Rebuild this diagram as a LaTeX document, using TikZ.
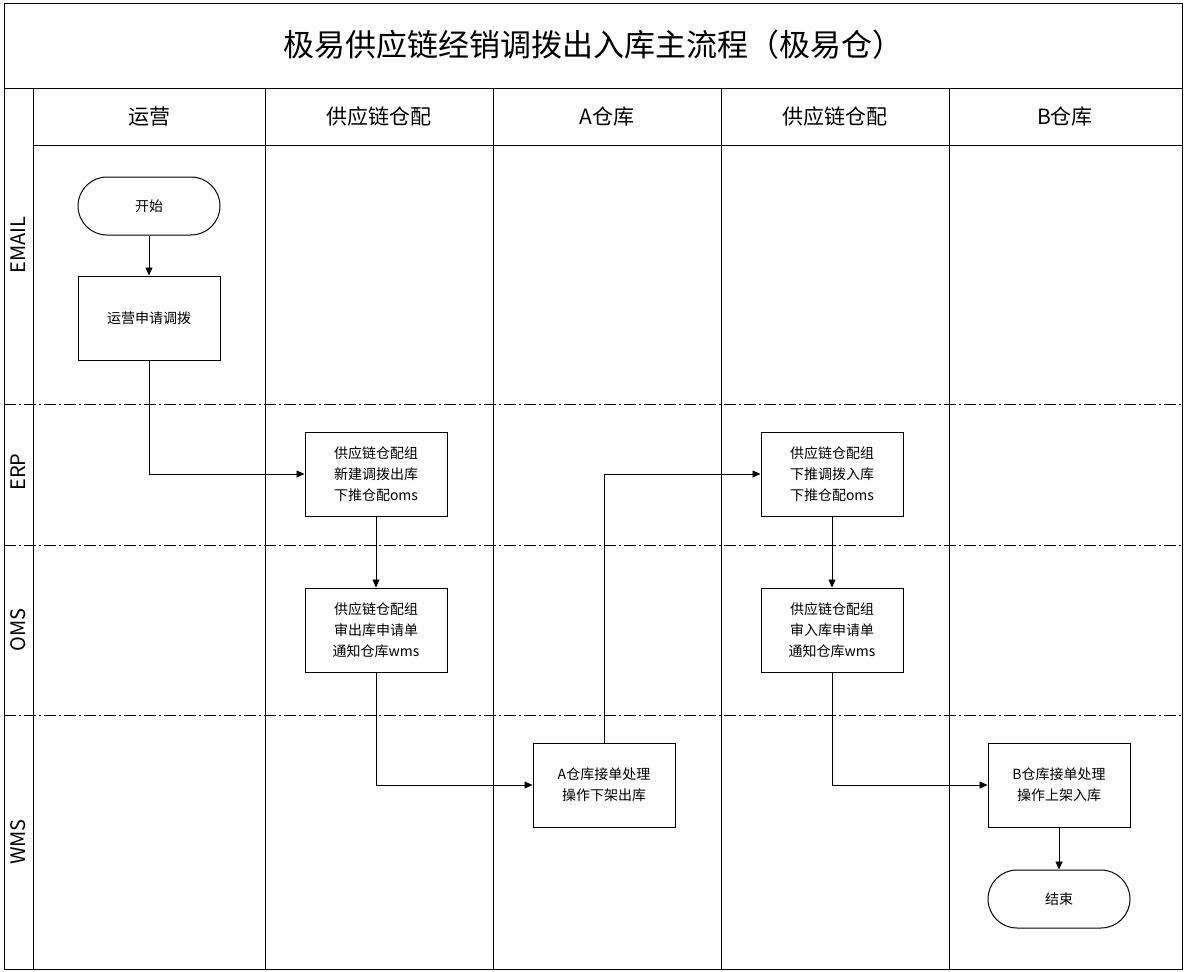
\documentclass[tikz,border=0pt]{standalone}
\usepackage{fontspec}
\setmainfont{Noto Sans CJK SC}
\usetikzlibrary{arrows.meta}
\begin{document}
\begin{tikzpicture}[x=1pt,y=-1pt,
  box/.style={draw,line width=1pt,minimum width=142pt,minimum height=84pt,align=center,font=\fontsize{14}{21}\selectfont},
  term/.style={draw,line width=1pt,rounded corners=29pt,minimum width=142pt,minimum height=58pt,font=\fontsize{14}{21}\selectfont},
  flow/.style={line width=0.8pt,-{Triangle[length=8pt,width=7pt]}},
  lane/.style={line width=0.8pt,dash pattern=on 12pt off 3pt on 2pt off 3pt}]

\useasboundingbox (0,0) rectangle (1184,972);
\draw[line width=1pt] (4,3) rectangle (1182,969);
\draw[line width=1pt] (4,88)--(1182,88);
\draw[line width=1pt] (33,145)--(1182,145);
\draw[line width=1pt] (33,88)--(33,969);
\foreach \x in {265,493,721,949}{
\draw[line width=0.8pt] (\x,88)--(\x,969);
}
\foreach \y in {404,545,715}{
\draw[lane] (4,\y)--(1182,\y);
}

% titles
\node (title) at (593,45) {\fontsize{31}{36}\selectfont 极易供应链经销调拨出入库主流程（极易仓）};
\node (h1) at (149,117) {\fontsize{21}{25}\selectfont 运营};
\node (h2) at (379,117) {\fontsize{21}{25}\selectfont 供应链仓配};
\node (h3) at (607,117) {\fontsize{21}{25}\selectfont A仓库};
\node (h4) at (835,117) {\fontsize{21}{25}\selectfont 供应链仓配};
\node (h5) at (1065,117) {\fontsize{21}{25}\selectfont B仓库};

\node[rotate=90] (email) at (18,245) {\fontsize{20}{24}\selectfont EMAIL};
\node[rotate=90] (erp) at (18,472) {\fontsize{20}{24}\selectfont ERP};
\node[rotate=90] (oms) at (18,630) {\fontsize{20}{24}\selectfont OMS};
\node[rotate=90] (wms) at (18,842) {\fontsize{20}{24}\selectfont WMS};

% nodes
\node[term] (start) at (149,206) {开始};
\node[box] (apply) at (149,318) {运营申请调拨};
\node[box] (outnew) at (376,474) {供应链仓配组\\新建调拨出库\\下推仓配oms};
\node[box] (outchk) at (376,630) {供应链仓配组\\审出库申请单\\通知仓库wms};
\node[box] (aware) at (604,785) {A仓库接单处理\\操作下架出库};
\node[box] (innew) at (832,474) {供应链仓配组\\下推调拨入库\\下推仓配oms};
\node[box] (inchk) at (832,630) {供应链仓配组\\审入库申请单\\通知仓库wms};
\node[box] (bware) at (1059,785) {B仓库接单处理\\操作上架入库};
\node[term] (end) at (1059,899) {结束};

% connectors
\draw[flow] (start)--(apply);
\draw[flow] (apply.south) |- (outnew.west);
\draw[flow] (outnew)--(outchk);
\draw[flow] (outchk.south) |- (aware.west);
\draw[flow] (aware.north) |- (innew.west);
\draw[flow] (innew)--(inchk);
\draw[flow] (inchk.south) |- (bware.west);
\draw[flow] (bware)--(end);
\end{tikzpicture}
\end{document}
